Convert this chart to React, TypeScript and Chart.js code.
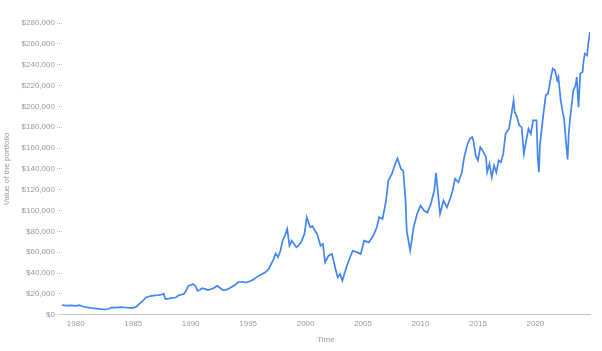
import React, { useEffect, useRef } from "react";
import { Chart, registerables } from "chart.js";

Chart.register(...registerables);

const years = [
  1978.8, 1979.2, 1979.6, 1980.0, 1980.3, 1980.7, 1981.0, 1981.4, 1981.8, 1982.2,
  1982.6, 1982.9, 1983.1, 1983.5, 1983.9, 1984.3, 1984.7, 1985.0, 1985.3, 1985.5,
  1985.8, 1986.1, 1986.5, 1986.9, 1987.2, 1987.5, 1987.65, 1987.8, 1988.1, 1988.4,
  1988.7, 1989.0, 1989.4, 1989.6, 1989.8, 1990.0, 1990.2, 1990.4, 1990.6, 1990.8,
  1991.0, 1991.3, 1991.5, 1991.8, 1992.0, 1992.3, 1992.6, 1992.8, 1993.0, 1993.2,
  1993.6, 1993.9, 1994.1, 1994.5, 1994.8, 1995.1, 1995.4, 1995.7, 1996.1, 1996.5,
  1996.8, 1997.0, 1997.2, 1997.4, 1997.6, 1997.8, 1998.0, 1998.2, 1998.4, 1998.6,
  1998.8, 1999.0, 1999.2, 1999.4, 1999.6, 1999.9, 2000.1, 2000.4, 2000.6, 2000.8,
  2001.0, 2001.3, 2001.5, 2001.7, 2002.0, 2002.3, 2002.6, 2002.8, 2003.0, 2003.2,
  2003.4, 2003.6, 2003.8, 2004.1, 2004.5, 2004.8, 2005.1, 2005.5, 2005.9, 2006.2,
  2006.4, 2006.7, 2007.0, 2007.2, 2007.5, 2007.8, 2008.0, 2008.3, 2008.5, 2008.7,
  2008.8, 2009.1, 2009.4, 2009.7, 2010.0, 2010.3, 2010.6, 2010.9, 2011.2, 2011.35,
  2011.7, 2012.0, 2012.3, 2012.6, 2012.8, 2013.0, 2013.3, 2013.6, 2013.8, 2014.1,
  2014.3, 2014.5, 2014.6, 2014.8, 2015.0, 2015.2, 2015.4, 2015.7, 2015.8, 2016.0,
  2016.2, 2016.4, 2016.6, 2016.8, 2017.0, 2017.2, 2017.4, 2017.7, 2017.9, 2018.1,
  2018.2, 2018.4, 2018.6, 2018.8, 2019.0, 2019.2, 2019.4, 2019.6, 2019.8, 2020.1,
  2020.2, 2020.3, 2020.4, 2020.7, 2020.9, 2021.1, 2021.3, 2021.5, 2021.7, 2021.9,
  2022.0, 2022.2, 2022.4, 2022.5, 2022.6, 2022.8, 2022.9, 2023.0, 2023.2, 2023.3,
  2023.5, 2023.6, 2023.75, 2023.9, 2024.1, 2024.2, 2024.3, 2024.5, 2024.6, 2024.75,
];

const portfolioValues = [
  9300, 8800, 9000, 8600, 9200, 7700, 7200, 6400, 6000, 5500,
  5100, 5800, 7000, 6900, 7300, 7000, 6600, 6700, 8000, 10300,
  13000, 16600, 18000, 18600, 18900, 19500, 20500, 15100, 15500, 16200,
  16600, 18900, 19900, 23000, 27900, 28500, 29500, 27900, 23100, 23800,
  25600, 24600, 23700, 24800, 25600, 27900, 25500, 23700, 23900, 24400,
  26900, 28800, 31100, 31700, 30900, 32000, 33500, 35900, 38500, 40700,
  44000, 48700, 53000, 58900, 55100, 61000, 71100, 76000, 82400, 66300,
  71100, 68000, 64700, 66500, 69500, 77600, 93600, 83900, 85000, 80800,
  77600, 66300, 68000, 50300, 56700, 58400, 43900, 35900, 39100, 32700,
  40000, 47100, 53000, 61500, 59900, 58400, 71100, 69500, 76000, 84000,
  93600, 92000, 109600, 128800, 135000, 145000, 150000, 140000, 138000, 109600,
  80800, 61500, 84000, 96800, 104800, 100000, 98000, 106400, 119200, 136000,
  96800, 109600, 103000, 112000, 119200, 130500, 127200, 136800, 151200, 164100,
  168900, 170500, 167300, 152900, 148100, 160900, 157700, 151200, 136800, 144900,
  132000, 143300, 136800, 148100, 146400, 154500, 173700, 178500, 191300, 205800,
  194500, 189700, 181700, 180100, 154500, 167300, 178500, 173700, 186500, 186500,
  151200, 136800, 164100, 193000, 210600, 212200, 225000, 236300, 234600, 225000,
  228200, 205800, 193000, 188000, 173700, 149000, 173700, 186500, 205800, 215400,
  220200, 228200, 199300, 231400, 233000, 244200, 250700, 249000, 260300, 271400,
];

const tickYears = [1980, 1985, 1990, 1995, 2000, 2005, 2010, 2015, 2020];
const yAxisTitle = "Value of the portfolio";
const xAxisTitle = "Time";

const FONT = "Arial, 'Liberation Sans', sans-serif";
const GRAY = "#9a9a9a";

export default function App() {
  const ref = useRef<HTMLCanvasElement | null>(null);

  useEffect(() => {
    if (!ref.current) return;
    const chart = new Chart(ref.current, {
      type: "line",
      data: {
        datasets: [
          {
            data: years.map((y, i) => ({ x: y, y: portfolioValues[i] })),
            borderColor: "#4285f4",
            backgroundColor: "#4285f4",
            borderWidth: 1.7,
            pointRadius: 0,
            tension: 0,
            fill: false,
          },
        ],
      },
      options: {
        animation: false,
        responsive: false,
        layout: { padding: { top: 23, right: 12, left: 0, bottom: 6 } },
        plugins: { legend: { display: false }, tooltip: { enabled: false } },
        scales: {
          x: {
            type: "linear",
            min: 1978.8,
            max: 2024.75,
            afterBuildTicks: (scale: any) => {
              scale.ticks = tickYears.map((v) => ({ value: v }));
            },
            ticks: {
              color: GRAY,
              font: { family: FONT, size: 8 },
              padding: 4,
              maxRotation: 0,
              callback: (v: any) => String(v),
            },
            grid: { display: false, drawTicks: false },
            border: { display: true, color: "#c4c4c4", dash: [1, 3], width: 1 },
            title: {
              display: true,
              text: xAxisTitle,
              color: GRAY,
              font: { family: FONT, size: 8 },
              padding: { top: 3, bottom: 0 },
            },
          },
          y: {
            min: 0,
            max: 280000,
            ticks: {
              stepSize: 20000,
              color: GRAY,
              font: { family: FONT, size: 8 },
              padding: 2,
              callback: (v: any) => "$" + Number(v).toLocaleString("en-US"),
            },
            grid: {
              display: true,
              drawOnChartArea: false,
              drawTicks: true,
              tickLength: 5,
              color: "#c4c4c4",
              tickBorderDash: [1, 1],
            },
            border: { display: false },
            title: {
              display: true,
              text: yAxisTitle,
              color: GRAY,
              font: { family: FONT, size: 8 },
              padding: { top: 2, bottom: 8 },
            },
          },
        },
      },
    });
    return () => chart.destroy();
  }, []);

  return (
    <div style={{ position: "absolute", left: 0, top: 0, width: 602, height: 351 }}>
      <canvas ref={ref} width={602} height={351} />
    </div>
  );
}
